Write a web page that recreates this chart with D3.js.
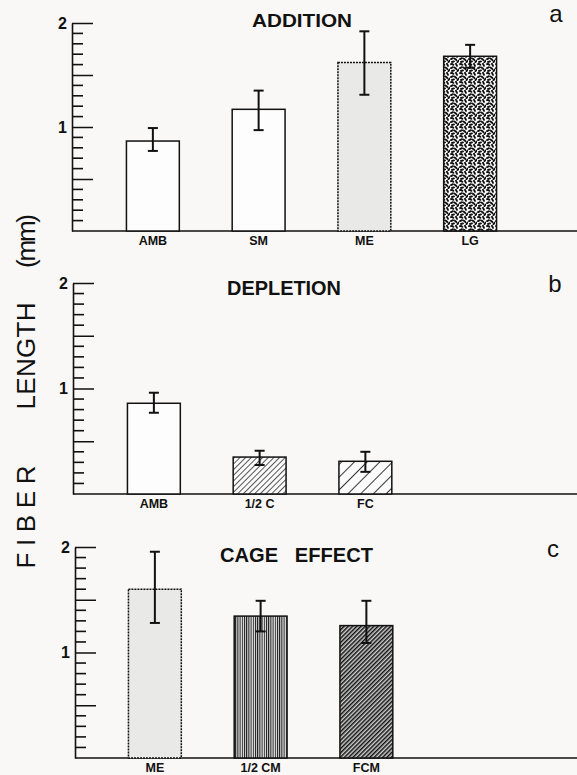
<html>
    <head>
        <script src="https://d3js.org/d3.v7.min.js"></script>
        <style>
            body { margin: 0; background: #f9f8f6; }
            svg text { font-family: "Liberation Sans", Arial, Helvetica, sans-serif; fill: #111; }
            .yaxis .domain { stroke: #111; stroke-width: 1.6; }
            .yaxis line { stroke: #111; stroke-width: 1.5; }
        </style>
    </head>
    <body>
        <svg id="chart" width="577" height="775"></svg>

        <script>
            // ---- data ----
            const addCats  = ["AMB", "SM", "ME", "LG"];
            const addMeans = [0.865, 1.17, 1.62, 1.68];
            const addLow   = [0.77, 0.97, 1.31, 1.57];
            const addHigh  = [0.99, 1.35, 1.92, 1.79];

            const depCats  = ["AMB", "1/2 C", "FC"];
            const depMeans = [0.86, 0.35, 0.31];
            const depLow   = [0.77, 0.275, 0.21];
            const depHigh  = [0.96, 0.41, 0.40];

            const cageCats  = ["ME", "1/2 CM", "FCM"];
            const cageMeans = [1.60, 1.345, 1.255];
            const cageLow   = [1.28, 1.20, 1.09];
            const cageHigh  = [1.955, 1.49, 1.49];

            const minorTicks = [0.1, 0.2, 0.3, 0.4, 0.6, 0.7, 0.8, 0.9, 1.1, 1.2, 1.3, 1.4, 1.6, 1.7, 1.8, 1.9];
            const majorTicks = [0.5, 1, 1.5, 2];
            const yLabels = [1, 2];

            const svg = d3.select("#chart");
            const W = +svg.attr("width");

            // ---- fill patterns ----
            const defs = svg.append("defs");

            function hatch(id, size, width, angle, bg) {
                const p = defs.append("pattern")
                    .attr("id", id)
                    .attr("patternUnits", "userSpaceOnUse")
                    .attr("width", size).attr("height", size)
                    .attr("patternTransform", `rotate(${angle})`);
                p.append("rect").attr("width", size).attr("height", size).attr("fill", bg);
                p.append("line")
                    .attr("x1", width / 2).attr("x2", width / 2)
                    .attr("y1", 0).attr("y2", size)
                    .attr("stroke", "#111").attr("stroke-width", width);
            }
            hatch("halfC", 4, 0.8, 45, "#fbfbfb");
            hatch("fullC", 9, 0.9, 45, "#fbfbfb");
            hatch("halfCM", 2.2, 1.0, 0, "#e8e8e8");
            hatch("fullCM", 3, 1.5, 45, "#cfcfcf");

            // squiggly stipple for LG
            const lg = defs.append("pattern")
                .attr("id", "lg")
                .attr("patternUnits", "userSpaceOnUse")
                .attr("width", 9).attr("height", 9);
            lg.append("rect").attr("width", 9).attr("height", 9).attr("fill", "#fbfbfb");
            ["M1,1.2 q1.2,-0.6 2.4,0.6", "M6,0.8 l1,2", "M1,5.2 l2,-1", "M4.6,4.6 q1.2,0.4 1.8,1.6",
             "M2,8 l2,-0.6", "M7.4,8.2 l1.2,-1.6"]
                .forEach(d => lg.append("path").attr("d", d)
                    .attr("stroke", "#111").attr("stroke-width", 1.9)
                    .attr("stroke-linecap", "round").attr("fill", "none"));

            const fills = {
                "AMB": "#fdfdfd", "SM": "#fdfdfd", "ME": "#e9e9e8", "LG": "url(#lg)",
                "1/2 C": "url(#halfC)", "FC": "url(#fullC)",
                "1/2 CM": "url(#halfCM)", "FCM": "url(#fullCM)"
            };

            // bar slots shared by all three panels
            const slotScale = d3.scaleBand()
                .domain([0, 1, 2, 3])
                .range([100, 523])
                .paddingInner(0.5)
                .paddingOuter(0.25);

            function drawPanel(cfg) {
                const g = svg.append("g").attr("transform", `translate(${cfg.dx},0)`);

                const y = d3.scaleLinear().domain([0, 2]).range([cfg.base, cfg.top]);

                // major ticks with labels
                const ax = g.append("g")
                    .attr("class", "yaxis")
                    .attr("transform", `translate(${cfg.axisX},0)`)
                    .call(d3.axisLeft(y)
                        .tickValues(majorTicks)
                        .tickSize(-21)
                        .tickSizeOuter(0)
                        .tickPadding(5)
                        .tickFormat(d => yLabels.includes(d) ? d3.format("d")(d) : ""));
                ax.selectAll(".tick text")
                    .attr("font-size", 16)
                    .attr("font-weight", "bold")
                    .attr("font-family", "Liberation Sans, Arial, sans-serif")
                    .attr("fill", "#111");

                // minor ticks (0.1 steps), pointing into the plot
                const minorG = g.append("g").attr("class", "minor-ticks");
                minorTicks.forEach(v => {
                    minorG.append("line")
                        .attr("x1", cfg.axisX)
                        .attr("x2", cfg.axisX + 11)
                        .attr("y1", y(v))
                        .attr("y2", y(v))
                        .attr("stroke", "#111")
                        .attr("stroke-width", 1.6);
                });

                // baseline
                g.append("line")
                    .attr("x1", cfg.axisX).attr("x2", W)
                    .attr("y1", y(0)).attr("y2", y(0))
                    .attr("stroke", "#111").attr("stroke-width", 1.6);

                const data = cfg.cats.map((c, i) => ({
                    cat: c, slot: i, mean: cfg.means[i], lo: cfg.low[i], hi: cfg.high[i]
                }));

                g.selectAll("rect.bar").data(data)
                    .join("rect")
                    .attr("class", "bar")
                    .attr("x", d => slotScale(d.slot))
                    .attr("width", slotScale.bandwidth())
                    .attr("y", d => y(d.mean))
                    .attr("height", d => y(0) - y(d.mean))
                    .attr("fill", d => fills[d.cat])
                    .attr("stroke", "#111")
                    .attr("stroke-width", 1.5)
                    .attr("stroke-dasharray", d => d.cat === "ME" ? "2,1" : null);

                const cx = d => slotScale(d.slot) + slotScale.bandwidth() / 2;
                const capW = 5;

                g.selectAll("line.err").data(data)
                    .join("line")
                    .attr("class", "err")
                    .attr("x1", cx).attr("x2", cx)
                    .attr("y1", d => y(d.hi)).attr("y2", d => y(d.lo))
                    .attr("stroke", "#111").attr("stroke-width", 2);

                ["hi", "lo"].forEach(k => {
                    g.selectAll("line.cap-" + k).data(data)
                        .join("line")
                        .attr("class", "cap-" + k)
                        .attr("x1", d => cx(d) - capW).attr("x2", d => cx(d) + capW)
                        .attr("y1", d => y(d[k])).attr("y2", d => y(d[k]))
                        .attr("stroke", "#111").attr("stroke-width", 2);
                });

                g.selectAll("text.cat").data(data)
                    .join("text")
                    .attr("class", "cat")
                    .attr("x", cx)
                    .attr("y", y(0) + 14)
                    .attr("text-anchor", "middle")
                    .attr("font-size", 12.5)
                    .attr("font-weight", "bold")
                    .text(d => d.cat);

                // panel title
                svg.append("text")
                    .attr("x", cfg.titleX)
                    .attr("y", cfg.titleY)
                    .attr("font-size", cfg.titleSize)
                    .attr("font-weight", "bold")
                    .attr("textLength", cfg.titleW)
                    .attr("lengthAdjust", "spacingAndGlyphs")
                    .attr("xml:space", "preserve")
                    .text(cfg.title);

                // panel letter
                svg.append("text")
                    .attr("x", cfg.letterX)
                    .attr("y", cfg.letterY)
                    .attr("text-anchor", "middle")
                    .attr("font-size", 24)
                    .text(cfg.letter);
            }

            drawPanel({
                cats: addCats, means: addMeans, low: addLow, high: addHigh,
                dx: 0, axisX: 72, top: 23, base: 231,
                title: "ADDITION", titleX: 252, titleY: 27, titleW: 100, titleSize: 19,
                letter: "a", letterX: 556, letterY: 22
            });

            drawPanel({
                cats: depCats, means: depMeans, low: depLow, high: depHigh,
                dx: 1, axisX: 72, top: 283, base: 494,
                title: "DEPLETION", titleX: 227, titleY: 295, titleW: 114, titleSize: 20,
                letter: "b", letterX: 555, letterY: 292
            });

            drawPanel({
                cats: cageCats, means: cageMeans, low: cageLow, high: cageHigh,
                dx: 2, axisX: 73, top: 547, base: 758,
                title: "CAGE   EFFECT", titleX: 220, titleY: 562, titleW: 153, titleSize: 20,
                letter: "c", letterX: 553, letterY: 557
            });

            // shared y label
            [["FIBER", 517, 103], ["LENGTH", 356, 107], ["(mm)", 241, 54]].forEach(([t, cy, len]) => {
                svg.append("text")
                    .attr("transform", `translate(35,${cy}) rotate(-90)`)
                    .attr("text-anchor", "middle")
                    .attr("font-size", 26)
                    .attr("fill", "#222")
                    .attr("textLength", len)
                    .attr("lengthAdjust", "spacing")
                    .text(t);
            });
        </script>
    </body>
</html>
